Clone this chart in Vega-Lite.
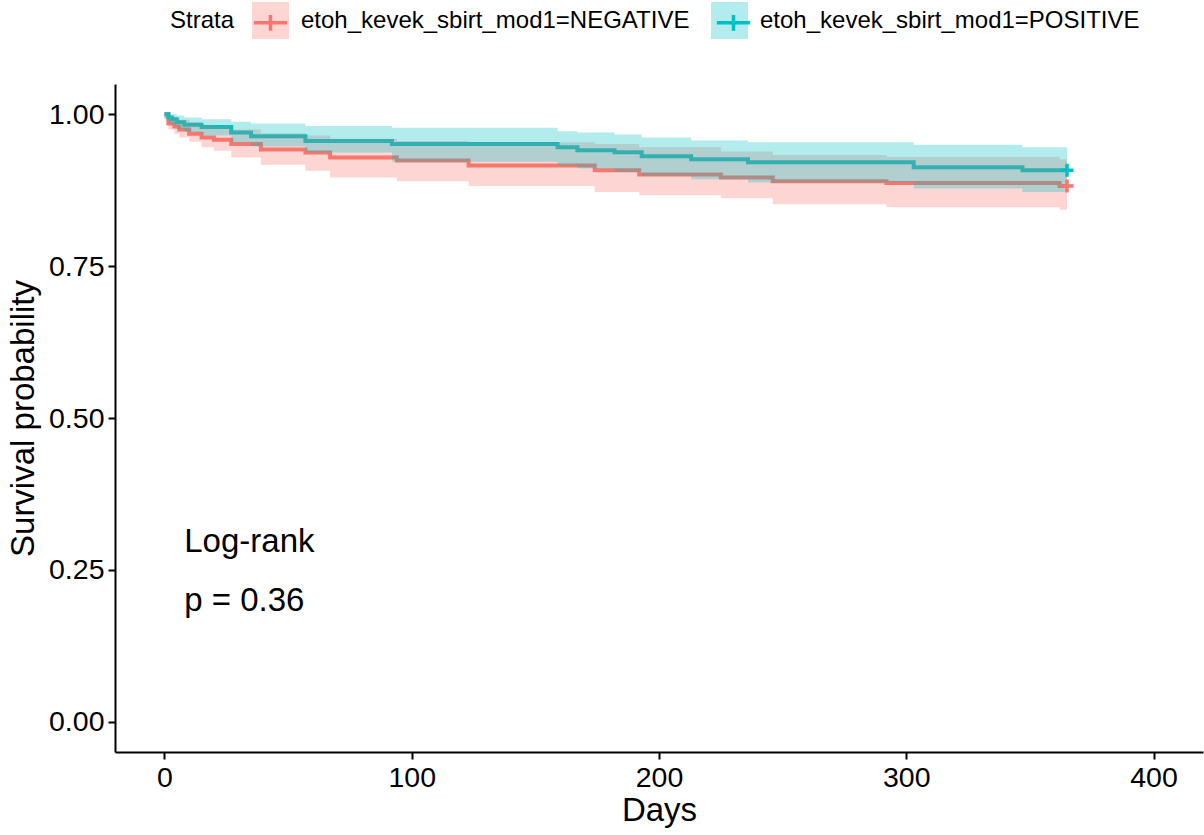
{
  "$schema": "https://vega.github.io/schema/vega-lite/v6.json",
  "width": 1088,
  "height": 668,
  "autosize": {"type": "none"},
  "padding": {"left": 115, "top": 84, "right": 1, "bottom": 83},
  "background": "white",
  "config": {
    "view": {"stroke": null},
    "font": "Liberation Sans",
    "axis": {
      "grid": false,
      "domainColor": "black",
      "domainWidth": 2,
      "tickColor": "black",
      "tickWidth": 2,
      "tickSize": 7,
      "labelColor": "black",
      "labelFont": "Liberation Sans",
      "labelFontSize": 28.5,
      "labelPadding": 4,
      "titleColor": "black",
      "titleFont": "Liberation Sans",
      "titleFontSize": 33,
      "titleFontWeight": "normal"
    },
    "legend": {
      "orient": "none",
      "direction": "horizontal",
      "legendX": 55,
      "legendY": -82,
      "padding": 0,
      "titleOrient": "left",
      "titleAnchor": "middle",
      "titleBaseline": "middle",
      "titlePadding": 17,
      "titleFont": "Liberation Sans",
      "titleFontSize": 24,
      "titleFontWeight": "normal",
      "titleColor": "black",
      "labelFont": "Liberation Sans",
      "labelFontSize": 24,
      "labelColor": "black",
      "labelLimit": 600,
      "labelOffset": 12,
      "symbolSize": 1369
    }
  },
  "datasets": {
    "curve": [
      {"group": "etoh_kevek_sbirt_mod1=NEGATIVE", "day": 0, "surv": 1.0},
      {"group": "etoh_kevek_sbirt_mod1=NEGATIVE", "day": 1.6, "surv": 0.985},
      {"group": "etoh_kevek_sbirt_mod1=NEGATIVE", "day": 4, "surv": 0.98},
      {"group": "etoh_kevek_sbirt_mod1=NEGATIVE", "day": 6, "surv": 0.975},
      {"group": "etoh_kevek_sbirt_mod1=NEGATIVE", "day": 10, "surv": 0.968},
      {"group": "etoh_kevek_sbirt_mod1=NEGATIVE", "day": 15, "surv": 0.962},
      {"group": "etoh_kevek_sbirt_mod1=NEGATIVE", "day": 20, "surv": 0.958},
      {"group": "etoh_kevek_sbirt_mod1=NEGATIVE", "day": 27, "surv": 0.951},
      {"group": "etoh_kevek_sbirt_mod1=NEGATIVE", "day": 39, "surv": 0.942},
      {"group": "etoh_kevek_sbirt_mod1=NEGATIVE", "day": 57, "surv": 0.937},
      {"group": "etoh_kevek_sbirt_mod1=NEGATIVE", "day": 67, "surv": 0.929},
      {"group": "etoh_kevek_sbirt_mod1=NEGATIVE", "day": 94, "surv": 0.924},
      {"group": "etoh_kevek_sbirt_mod1=NEGATIVE", "day": 123, "surv": 0.916},
      {"group": "etoh_kevek_sbirt_mod1=NEGATIVE", "day": 174, "surv": 0.908},
      {"group": "etoh_kevek_sbirt_mod1=NEGATIVE", "day": 192, "surv": 0.901},
      {"group": "etoh_kevek_sbirt_mod1=NEGATIVE", "day": 225, "surv": 0.896},
      {"group": "etoh_kevek_sbirt_mod1=NEGATIVE", "day": 246, "surv": 0.89},
      {"group": "etoh_kevek_sbirt_mod1=NEGATIVE", "day": 292, "surv": 0.887},
      {"group": "etoh_kevek_sbirt_mod1=NEGATIVE", "day": 362, "surv": 0.882},
      {"group": "etoh_kevek_sbirt_mod1=NEGATIVE", "day": 365, "surv": 0.882},
      {"group": "etoh_kevek_sbirt_mod1=POSITIVE", "day": 0, "surv": 1.0},
      {"group": "etoh_kevek_sbirt_mod1=POSITIVE", "day": 1.6, "surv": 0.995},
      {"group": "etoh_kevek_sbirt_mod1=POSITIVE", "day": 3, "surv": 0.992},
      {"group": "etoh_kevek_sbirt_mod1=POSITIVE", "day": 5, "surv": 0.987},
      {"group": "etoh_kevek_sbirt_mod1=POSITIVE", "day": 8, "surv": 0.983},
      {"group": "etoh_kevek_sbirt_mod1=POSITIVE", "day": 15, "surv": 0.979},
      {"group": "etoh_kevek_sbirt_mod1=POSITIVE", "day": 27, "surv": 0.97},
      {"group": "etoh_kevek_sbirt_mod1=POSITIVE", "day": 35, "surv": 0.964},
      {"group": "etoh_kevek_sbirt_mod1=POSITIVE", "day": 57, "surv": 0.956},
      {"group": "etoh_kevek_sbirt_mod1=POSITIVE", "day": 92, "surv": 0.951},
      {"group": "etoh_kevek_sbirt_mod1=POSITIVE", "day": 159, "surv": 0.946},
      {"group": "etoh_kevek_sbirt_mod1=POSITIVE", "day": 167, "surv": 0.941},
      {"group": "etoh_kevek_sbirt_mod1=POSITIVE", "day": 182, "surv": 0.9375},
      {"group": "etoh_kevek_sbirt_mod1=POSITIVE", "day": 193, "surv": 0.931},
      {"group": "etoh_kevek_sbirt_mod1=POSITIVE", "day": 213, "surv": 0.926},
      {"group": "etoh_kevek_sbirt_mod1=POSITIVE", "day": 236, "surv": 0.921},
      {"group": "etoh_kevek_sbirt_mod1=POSITIVE", "day": 303, "surv": 0.913},
      {"group": "etoh_kevek_sbirt_mod1=POSITIVE", "day": 347, "surv": 0.908},
      {"group": "etoh_kevek_sbirt_mod1=POSITIVE", "day": 365, "surv": 0.908}
    ],
    "band": [
      {"strata": "etoh_kevek_sbirt_mod1=NEGATIVE", "day": 0, "lower": 0.992, "upper": 1.0},
      {"strata": "etoh_kevek_sbirt_mod1=NEGATIVE", "day": 1.6, "lower": 0.975, "upper": 0.997},
      {"strata": "etoh_kevek_sbirt_mod1=NEGATIVE", "day": 4, "lower": 0.968, "upper": 0.994},
      {"strata": "etoh_kevek_sbirt_mod1=NEGATIVE", "day": 6, "lower": 0.962, "upper": 0.991},
      {"strata": "etoh_kevek_sbirt_mod1=NEGATIVE", "day": 10, "lower": 0.955, "upper": 0.987},
      {"strata": "etoh_kevek_sbirt_mod1=NEGATIVE", "day": 15, "lower": 0.946, "upper": 0.983},
      {"strata": "etoh_kevek_sbirt_mod1=NEGATIVE", "day": 20, "lower": 0.94, "upper": 0.98},
      {"strata": "etoh_kevek_sbirt_mod1=NEGATIVE", "day": 27, "lower": 0.929, "upper": 0.975},
      {"strata": "etoh_kevek_sbirt_mod1=NEGATIVE", "day": 39, "lower": 0.917, "upper": 0.969},
      {"strata": "etoh_kevek_sbirt_mod1=NEGATIVE", "day": 57, "lower": 0.907, "upper": 0.965},
      {"strata": "etoh_kevek_sbirt_mod1=NEGATIVE", "day": 67, "lower": 0.896, "upper": 0.96},
      {"strata": "etoh_kevek_sbirt_mod1=NEGATIVE", "day": 94, "lower": 0.89, "upper": 0.956},
      {"strata": "etoh_kevek_sbirt_mod1=NEGATIVE", "day": 123, "lower": 0.882, "upper": 0.954},
      {"strata": "etoh_kevek_sbirt_mod1=NEGATIVE", "day": 174, "lower": 0.872, "upper": 0.951},
      {"strata": "etoh_kevek_sbirt_mod1=NEGATIVE", "day": 192, "lower": 0.867, "upper": 0.946},
      {"strata": "etoh_kevek_sbirt_mod1=NEGATIVE", "day": 225, "lower": 0.862, "upper": 0.939},
      {"strata": "etoh_kevek_sbirt_mod1=NEGATIVE", "day": 246, "lower": 0.852, "upper": 0.933},
      {"strata": "etoh_kevek_sbirt_mod1=NEGATIVE", "day": 292, "lower": 0.847, "upper": 0.93},
      {"strata": "etoh_kevek_sbirt_mod1=NEGATIVE", "day": 362, "lower": 0.843, "upper": 0.926},
      {"strata": "etoh_kevek_sbirt_mod1=NEGATIVE", "day": 365, "lower": 0.843, "upper": 0.926},
      {"strata": "etoh_kevek_sbirt_mod1=POSITIVE", "day": 0, "lower": 0.993, "upper": 1.0},
      {"strata": "etoh_kevek_sbirt_mod1=POSITIVE", "day": 1.6, "lower": 0.986, "upper": 1.0},
      {"strata": "etoh_kevek_sbirt_mod1=POSITIVE", "day": 3, "lower": 0.982, "upper": 1.0},
      {"strata": "etoh_kevek_sbirt_mod1=POSITIVE", "day": 5, "lower": 0.976, "upper": 0.998},
      {"strata": "etoh_kevek_sbirt_mod1=POSITIVE", "day": 8, "lower": 0.971, "upper": 0.995},
      {"strata": "etoh_kevek_sbirt_mod1=POSITIVE", "day": 15, "lower": 0.965, "upper": 0.992},
      {"strata": "etoh_kevek_sbirt_mod1=POSITIVE", "day": 27, "lower": 0.954, "upper": 0.988},
      {"strata": "etoh_kevek_sbirt_mod1=POSITIVE", "day": 35, "lower": 0.947, "upper": 0.985},
      {"strata": "etoh_kevek_sbirt_mod1=POSITIVE", "day": 57, "lower": 0.937, "upper": 0.981},
      {"strata": "etoh_kevek_sbirt_mod1=POSITIVE", "day": 92, "lower": 0.922, "upper": 0.978},
      {"strata": "etoh_kevek_sbirt_mod1=POSITIVE", "day": 159, "lower": 0.916, "upper": 0.972},
      {"strata": "etoh_kevek_sbirt_mod1=POSITIVE", "day": 167, "lower": 0.911, "upper": 0.97},
      {"strata": "etoh_kevek_sbirt_mod1=POSITIVE", "day": 182, "lower": 0.905, "upper": 0.967},
      {"strata": "etoh_kevek_sbirt_mod1=POSITIVE", "day": 193, "lower": 0.899, "upper": 0.962},
      {"strata": "etoh_kevek_sbirt_mod1=POSITIVE", "day": 213, "lower": 0.893, "upper": 0.957},
      {"strata": "etoh_kevek_sbirt_mod1=POSITIVE", "day": 236, "lower": 0.888, "upper": 0.954},
      {"strata": "etoh_kevek_sbirt_mod1=POSITIVE", "day": 303, "lower": 0.878, "upper": 0.95},
      {"strata": "etoh_kevek_sbirt_mod1=POSITIVE", "day": 347, "lower": 0.872, "upper": 0.946},
      {"strata": "etoh_kevek_sbirt_mod1=POSITIVE", "day": 365, "lower": 0.872, "upper": 0.946}
    ],
    "annotation": [
      {"label": "Log-rank", "day": 8, "surv": 0.28},
      {"label": "p = 0.36", "day": 8, "surv": 0.183}
    ]
  },
  "layer": [
    {
      "data": {"name": "curve"},
      "mark": {"type": "line", "interpolate": "step-after", "strokeWidth": 4},
      "encoding": {
        "x": {
          "field": "day", "type": "quantitative",
          "scale": {"domain": [-20, 420], "nice": false, "zero": false},
          "axis": {"values": [0, 100, 200, 300, 400], "title": "Days", "titlePadding": 3}
        },
        "y": {
          "field": "surv", "type": "quantitative",
          "scale": {"domain": [-0.05, 1.05], "nice": false, "zero": false},
          "axis": {"values": [0, 0.25, 0.5, 0.75, 1], "format": ".2f", "title": "Survival probability", "titlePadding": 8}
        },
        "stroke": {
          "field": "group", "type": "nominal",
          "scale": {"range": ["#F8766D", "#00BFC4"]},
          "legend": {
            "title": null,
            "legendX": 135,
            "labelExpr": "''",
            "columnPadding": 406,
            "symbolType": "M-0.9,0H0.9M0,-0.42V0.42",
            "symbolStrokeWidth": 3.5,
            "symbolOpacity": 1,
            "symbolFillColor": "transparent",
            "zindex": 2
          }
        }
      }
    },
    {
      "data": {"name": "band"},
      "mark": {"type": "area", "interpolate": "step-after", "opacity": 0.3},
      "encoding": {
        "x": {"field": "day", "type": "quantitative"},
        "y": {"field": "lower", "type": "quantitative"},
        "y2": {"field": "upper"},
        "fill": {
          "field": "strata", "type": "nominal",
          "scale": {"range": ["#F8766D", "#00BFC4"]},
          "legend": {
            "title": "Strata",
            "columnPadding": 21,
            "symbolType": "M-1,-1H1V1H-1Z",
            "symbolStrokeWidth": 0,
            "symbolOpacity": 0.3,
            "zindex": 1
          }
        }
      }
    },
    {
      "data": {"name": "curve"},
      "transform": [{"filter": "datum.day === 365"}],
      "mark": {"type": "point", "shape": "M-1,0H1M0,-1V1", "size": 169, "strokeWidth": 3.5, "filled": false, "opacity": 1},
      "encoding": {
        "x": {"field": "day", "type": "quantitative"},
        "y": {"field": "surv", "type": "quantitative"},
        "stroke": {"field": "group", "type": "nominal", "legend": null}
      }
    },
    {
      "data": {"name": "annotation"},
      "mark": {"type": "text", "align": "left", "baseline": "alphabetic", "fontSize": 33, "font": "Liberation Sans", "color": "black"},
      "encoding": {
        "x": {"field": "day", "type": "quantitative"},
        "y": {"field": "surv", "type": "quantitative"},
        "text": {"field": "label"}
      }
    }
  ]
}
